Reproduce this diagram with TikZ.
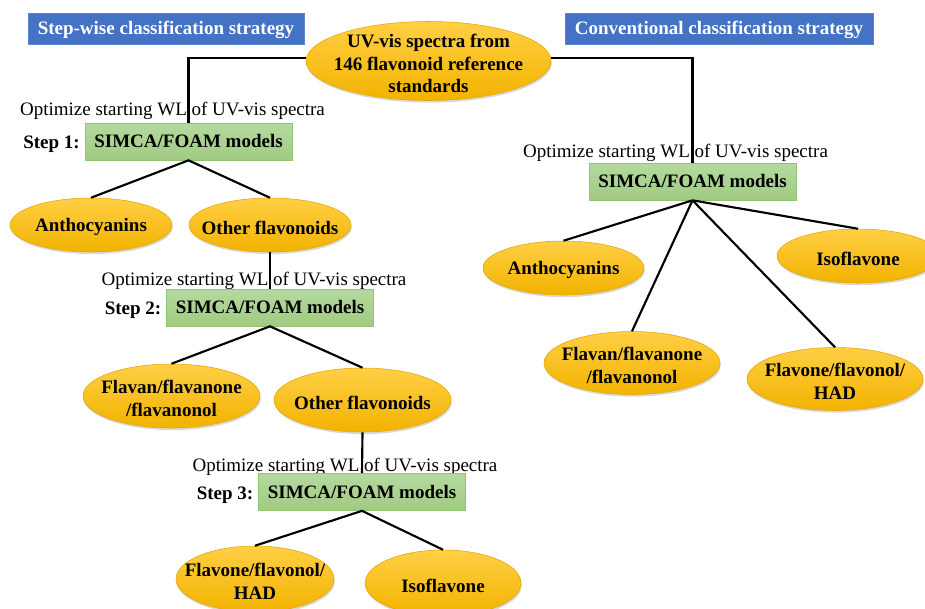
\documentclass[tikz,border=0pt]{standalone}
\usepackage{fontspec}
\setmainfont{Liberation Serif}
\usetikzlibrary{shapes.geometric}
\definecolor{goldT}{HTML}{FFCF45}
\definecolor{goldB}{HTML}{F2B300}
\definecolor{goldE}{HTML}{E3A500}
\definecolor{grnT}{HTML}{B5D99F}
\definecolor{grnB}{HTML}{A0CB82}
\definecolor{grnE}{HTML}{8FC470}
\definecolor{bluF}{HTML}{4472C4}
\definecolor{bluE}{HTML}{5B86CF}
\tikzset{
  ell/.style 2 args={ellipse, minimum width=#1*0.75pt, minimum height=#2*0.75pt, inner sep=0pt,
    top color=goldT, bottom color=goldB, draw=goldE, line width=0.4pt,
    preaction={fill=black, opacity=0.15, transform canvas={xshift=0.6pt, yshift=-1.6pt}}},
  lbl/.style={font=\fontsize{14.25}{16.9}\selectfont\bfseries, align=center, inner sep=0pt, yshift=-1.8pt},
  opt/.style={font=\fontsize{14.25}{16.9}\selectfont, inner sep=0pt, yshift=-1.8pt},
  stp/.style={font=\fontsize{14.25}{16.9}\selectfont\bfseries, inner sep=0pt, yshift=-1.8pt},
  gbox/.style={minimum width=207*0.75pt, minimum height=37*0.75pt, inner sep=0pt,
    top color=grnT, bottom color=grnB, draw=grnE, line width=0.5pt,
    font=\fontsize{14.25}{16.9}\selectfont\bfseries, text depth=0.5pt},
  bbox/.style={fill=bluF, draw=bluE, line width=0.5pt, text=white, inner sep=0pt,
    minimum height=31*0.75pt, font=\fontsize{14.25}{16.9}\selectfont\bfseries, text depth=0.5pt},
  conn/.style={line width=1.6pt, black}
}
\begin{document}
\begin{tikzpicture}[x=0.75pt,y=-0.75pt]
\useasboundingbox (0,0) rectangle (925,608);
\clip (0,0) rectangle (925,608);

% titles
\node[bbox, minimum width=276*0.75pt] (tL) at (166,28.5) {Step-wise classification strategy};
\node[bbox, minimum width=308*0.75pt] (tR) at (719,28.5) {Conventional classification strategy};

% top ellipse
\node[ell={245}{79}] (top) at (428.5,61) {};
\node[lbl] (topT) at (top.center) {UV-vis spectra from\\146 flavonoid reference\\standards};

% left branch
\node[opt] (o1) at (172.5,108) {Optimize starting WL of UV-vis spectra};
\node[gbox] (b1) at (188.5,141.5) {SIMCA/FOAM models};
\node[stp] (s1) at (51.5,141.5) {Step 1:};
\draw[conn] (top.west |- 0,58) coordinate (tw) -| (b1.north);

\node[ell={162}{54}] (an1) at (91,225) {};
\node[lbl] (an1T) at (an1.center) {Anthocyanins};
\node[ell={162}{54}] (of1) at (270,225) {};
\node[lbl] (of1T) at (of1.center) {Other flavonoids};
\draw[conn] (an1.north) -- (b1.south) -- (of1.north);

\node[opt] (o2) at (254,278) {Optimize starting WL of UV-vis spectra};
\node[gbox] (b2) at (270,307.5) {SIMCA/FOAM models};
\node[stp] (s2) at (133,308) {Step 2:};
\draw[conn] (of1.south) -- (b2.north);

\node[ell={177}{64}] (fl1) at (171.5,396) {};
\node[lbl] (fl1T) at (fl1.center) {Flavan/flavanone\\/flavanonol};
\node[ell={177}{64}] (of2) at (362.5,400) {};
\node[lbl] (of2T) at (of2.center) {Other flavonoids};
\draw[conn] (fl1.north) -- (b2.south) -- (of2.north);

\node[opt] (o3) at (345,464) {Optimize starting WL of UV-vis spectra};
\node[gbox] (b3) at (362,492) {SIMCA/FOAM models};
\node[stp] (s3) at (225,493) {Step 3:};
\draw[conn] (of2.south) -- (b3.north);

\node[ell={158}{66}] (fv1) at (255,579) {};
\node[lbl] (fv1T) at (fv1.center) {Flavone/flavonol/\\HAD};
\node[ell={156}{66}] (is1) at (443,583) {};
\node[lbl] (is1T) at (is1.center) {Isoflavone};
\draw[conn] (fv1.north) -- (b3.south) -- (is1.north);

% right branch
\node[opt] (oR) at (675.5,150) {Optimize starting WL of UV-vis spectra};
\node[gbox] (bR) at (692.5,181.5) {SIMCA/FOAM models};
\draw[conn] (top.east |- 0,58) -| (bR.north);

\node[ell={161}{54}] (anR) at (563.5,268) {};
\node[lbl] (anRT) at (anR.center) {Anthocyanins};
\node[ell={162}{54}] (isR) at (858,256) {};
\node[lbl] (isRT) at (isR.center) {Isoflavone};
\node[ell={176}{63}] (flR) at (632,363) {};
\node[lbl] (flRT) at (flR.center) {Flavan/flavanone\\/flavanonol};
\node[ell={176}{63}] (fvR) at (835,379) {};
\node[lbl] (fvRT) at (fvR.center) {Flavone/flavonol/\\HAD};
\draw[conn] (bR.south) -- (anR.north);
\draw[conn] (bR.south) -- (flR.north);
\draw[conn] (bR.south) -- (fvR.north);
\draw[conn] (bR.south) -- (isR.north);
\end{tikzpicture}
\end{document}
